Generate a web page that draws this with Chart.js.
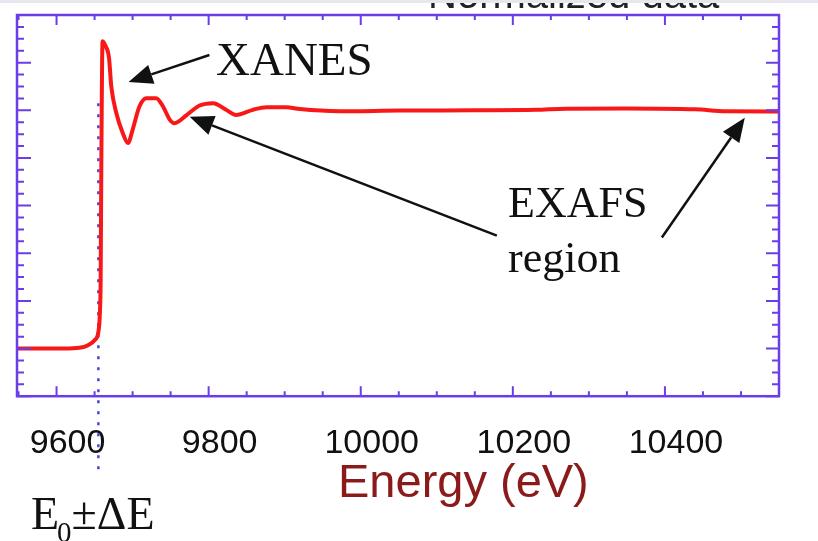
<!DOCTYPE html>
<html>
<head>
<meta charset="utf-8">
<script src="https://cdn.jsdelivr.net/npm/chart.js@4/dist/chart.umd.min.js"></script>
<style>
  html, body { margin: 0; padding: 0; background: #fff; }
  #wrap { width: 818px; height: 541px; position: relative; }
</style>
</head>
<body>
<div id="wrap"><canvas id="xas"></canvas></div>
<script>
// Energy (eV) and normalized absorption
const energy = [9548, 9580, 9610, 9630, 9642, 9650, 9655, 9657, 9658, 9659, 9660.5,
    9664.5, 9669, 9672, 9678.5, 9687, 9694, 9700, 9709, 9718, 9731,
    9740, 9749, 9755, 9771, 9788, 9806, 9823, 9836, 9858, 9876,
    9902, 9920, 9972, 10051, 10150, 10230, 10270, 10350, 10440, 10480, 10550];
const mu = [0.0, 0.0, 0.0, 0.003, 0.015, 0.035, 0.07, 0.15, 0.29, 0.83, 1.29,
    1.27, 1.22, 1.10, 0.99, 0.905, 0.863, 0.918, 1.016, 1.051, 1.051,
    1.016, 0.96, 0.946, 0.98, 1.02, 1.03, 1.002, 0.98, 1.002, 1.013,
    1.013, 1.005, 0.996, 0.999, 1.0, 1.002, 1.007, 1.008, 1.004, 0.996, 0.995];

// axis ticks
const xTicks = [9600, 9800, 10000, 10200, 10400];
const yMajor = [-0.2, 0, 0.2, 0.4, 0.6, 0.8, 1.0, 1.2, 1.4];

// annotations
const edgeEnergy = 9655;   // E0 marker
const axisTitle = 'Energy (eV)';
const topTitle = 'Normalized data';

const axisColor = '#6a3de8';

function arrow(ctx, x1, y1, x2, y2) {
    const ang = Math.atan2(y2 - y1, x2 - x1);
    const hl = 24, hw = 10;
    const bx = x2 - hl * Math.cos(ang), by = y2 - hl * Math.sin(ang);
    ctx.beginPath();
    ctx.moveTo(x1, y1);
    ctx.lineTo(bx, by);
    ctx.stroke();
    ctx.beginPath();
    ctx.moveTo(x2, y2);
    ctx.lineTo(bx + hw * Math.sin(ang), by - hw * Math.cos(ang));
    ctx.lineTo(bx - hw * Math.sin(ang), by + hw * Math.cos(ang));
    ctx.closePath();
    ctx.fill();
}

const decor = {
    id: 'decor',
    beforeDraw(chart) {
        const ctx = chart.ctx;
        ctx.save();
        ctx.fillStyle = '#fff';
        ctx.fillRect(0, 0, chart.width, chart.height);
        // cut-off title at the top
        ctx.fillStyle = '#222';
        ctx.font = '40px "Liberation Sans", Arial, sans-serif';
        ctx.textBaseline = 'alphabetic';
        ctx.fillText(topTitle, 428, 8);
        ctx.fillStyle = '#e6e6ee';
        ctx.fillRect(0, 0, chart.width, 3);
        ctx.restore();
    },
    beforeDatasetsDraw(chart) {
        const {ctx, chartArea: a, scales: {x, y}} = chart;
        ctx.save();
        ctx.strokeStyle = '#4a46d8';
        ctx.lineWidth = 2.5;
        ctx.setLineDash([3, 8]);
        const px = x.getPixelForValue(edgeEnergy);
        ctx.beginPath();
        ctx.moveTo(px, y.getPixelForValue(1.03));
        ctx.lineTo(px, a.bottom + 76);
        ctx.stroke();
        ctx.restore();
    },
    afterDraw(chart) {
        const {ctx, chartArea: a, scales: {x, y}} = chart;
        ctx.save();
        // frame
        ctx.strokeStyle = axisColor;
        ctx.lineWidth = 2.5;
        ctx.strokeRect(a.left, a.top, a.right - a.left, a.bottom - a.top);
        // inward ticks
        ctx.lineWidth = 2;
        ctx.beginPath();
        for (let v = 9550; v <= 10550; v += 50) {
            const px = x.getPixelForValue(v);
            const len = xTicks.includes(v) ? 10 : 5;
            ctx.moveTo(px, a.bottom); ctx.lineTo(px, a.bottom - len);
            ctx.moveTo(px, a.top); ctx.lineTo(px, a.top + len);
        }
        for (let i = -4; i <= 28; i++) {
            const v = i * 0.05;
            const py = y.getPixelForValue(v);
            const major = i % 4 === 0;
            ctx.moveTo(a.left, py); ctx.lineTo(a.left + (major ? 14 : 7), py);
            ctx.moveTo(a.right, py); ctx.lineTo(a.right - (major ? 13 : 7), py);
        }
        ctx.stroke();

        // arrows
        ctx.strokeStyle = '#111';
        ctx.fillStyle = '#111';
        ctx.lineWidth = 2.5;
        arrow(ctx, x.getPixelForValue(9801), y.getPixelForValue(1.232),
            x.getPixelForValue(9694.7), y.getPixelForValue(1.119));
        arrow(ctx, x.getPixelForValue(10179), y.getPixelForValue(0.474),
            x.getPixelForValue(9775), y.getPixelForValue(0.973));
        arrow(ctx, x.getPixelForValue(10396), y.getPixelForValue(0.466),
            x.getPixelForValue(10505), y.getPixelForValue(0.969));

        // labels
        ctx.fillStyle = '#111';
        ctx.textBaseline = 'alphabetic';
        ctx.textAlign = 'left';
        ctx.font = '47px "Liberation Serif", "Times New Roman", serif';
        ctx.fillText('XANES', 216, 75);
        ctx.font = '44px "Liberation Serif", "Times New Roman", serif';
        ctx.fillText('EXAFS', 508, 217);
        ctx.fillText('region', 508, 272);

        // E0 ± ΔE
        ctx.font = '46px "Liberation Serif", "Times New Roman", serif';
        ctx.fillText('E', 31, 529);
        const w = ctx.measureText('E').width;
        ctx.font = '29px "Liberation Serif", "Times New Roman", serif';
        ctx.fillText('0', 31 + w - 2, 542);
        const w0 = ctx.measureText('0').width;
        ctx.font = '46px "Liberation Serif", "Times New Roman", serif';
        ctx.fillText('±ΔE', 31 + w - 2 + w0, 529);

        // axis title
        ctx.fillStyle = '#8b1a1a';
        ctx.font = '47px "Liberation Sans", Arial, sans-serif';
        ctx.fillText(axisTitle, 338, 497);
        ctx.restore();
    }
};

new Chart(document.getElementById('xas'), {
    type: 'line',
    data: {
        datasets: [{
            data: energy.map((e, i) => ({x: e, y: mu[i]})),
            borderColor: '#f81818',
            borderWidth: 4,
            pointRadius: 0,
            cubicInterpolationMode: 'monotone',
            fill: false
        }]
    },
    options: {
        responsive: true,
        maintainAspectRatio: false,
        animation: false,
        layout: { padding: { left: 17, top: 15, right: 39, bottom: 50 } },
        plugins: { legend: { display: false }, tooltip: { enabled: false } },
        scales: {
            x: {
                type: 'linear',
                min: 9548,
                max: 10550,
                afterBuildTicks: (s) => { s.ticks = xTicks.map(v => ({value: v})); },
                afterFit: (s) => { s.paddingLeft = 0; s.paddingRight = 0; },
                grid: { display: false, drawTicks: false },
                border: { display: false },
                ticks: {
                    color: '#111',
                    padding: 27,
                    labelOffset: 11,
                    autoSkip: false,
                    maxRotation: 0,
                    font: { family: '"Liberation Sans", Arial, sans-serif', size: 34 },
                    callback: (v) => String(v)
                }
            },
            y: {
                type: 'linear',
                min: yMajor[0],
                max: yMajor[yMajor.length - 1],
                display: false
            }
        }
    },
    plugins: [decor]
});
</script>
</body>
</html>
